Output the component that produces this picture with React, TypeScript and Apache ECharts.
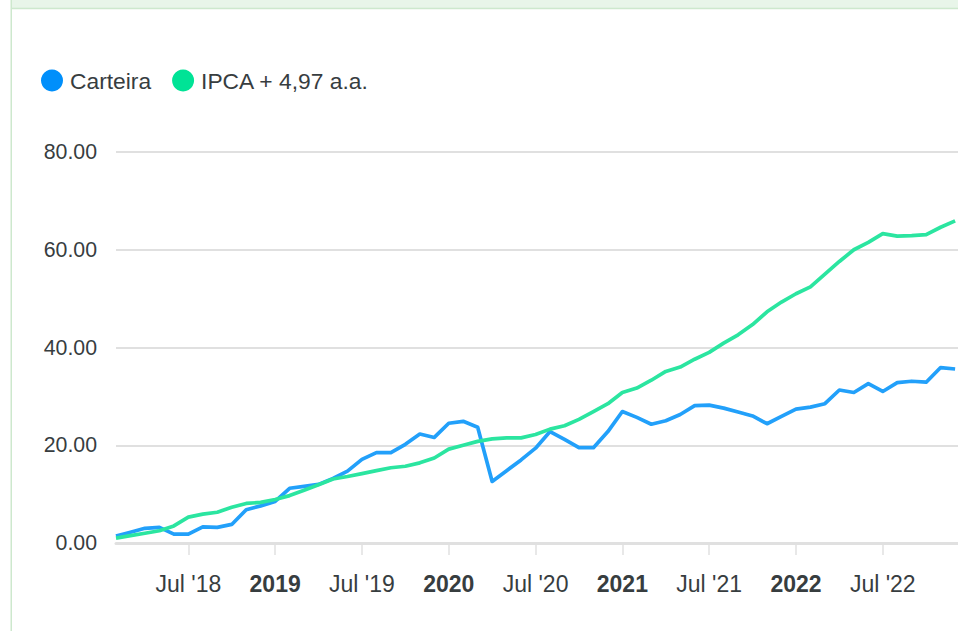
import React, { useEffect, useRef } from "react";
import * as echarts from "echarts";

// Monthly points, Feb 2018 .. Dec 2022
const months = [
  "2018-02","2018-03","2018-04","2018-05","2018-06","2018-07","2018-08","2018-09","2018-10","2018-11","2018-12",
  "2019-01","2019-02","2019-03","2019-04","2019-05","2019-06","2019-07","2019-08","2019-09","2019-10","2019-11","2019-12",
  "2020-01","2020-02","2020-03","2020-04","2020-05","2020-06","2020-07","2020-08","2020-09","2020-10","2020-11","2020-12",
  "2021-01","2021-02","2021-03","2021-04","2021-05","2021-06","2021-07","2021-08","2021-09","2021-10","2021-11","2021-12",
  "2022-01","2022-02","2022-03","2022-04","2022-05","2022-06","2022-07","2022-08","2022-09","2022-10","2022-11","2022-12",
];

const carteira = [
  1.4, 2.2, 3.0, 3.2, 1.8, 1.8, 3.3, 3.2, 3.8, 6.8, 7.6,
  8.5, 11.2, 11.6, 12.0, 13.2, 14.7, 17.1, 18.5, 18.5, 20.2, 22.3, 21.6,
  24.5, 24.9, 23.7, 12.6, 14.8, 17.0, 19.4, 22.8, 21.2, 19.5, 19.5, 22.8,
  26.9, 25.7, 24.3, 25.0, 26.3, 28.1, 28.2, 27.6, 26.8, 26.0, 24.4, 25.9,
  27.4, 27.8, 28.5, 31.3, 30.8, 32.6, 31.0, 32.8, 33.1, 32.9, 35.9, 35.6,
];

const ipca = [
  1.0, 1.5, 2.0, 2.5, 3.5, 5.3, 5.9, 6.3, 7.3, 8.1, 8.3,
  8.9, 9.7, 10.8, 11.9, 13.1, 13.6, 14.2, 14.8, 15.4, 15.7, 16.4, 17.4,
  19.2, 20.0, 20.8, 21.3, 21.5, 21.5, 22.2, 23.3, 24.0, 25.3, 26.9, 28.5,
  30.8, 31.7, 33.3, 35.1, 36.0, 37.6, 39.0, 40.9, 42.6, 44.7, 47.3, 49.3,
  51.0, 52.4, 55.0, 57.6, 60.0, 61.5, 63.3, 62.8, 62.9, 63.1, 64.6, 65.9,
];

const tickMonths = ["2018-07","2019-01","2019-07","2020-01","2020-07","2021-01","2021-07","2022-01","2022-07"];
const tickLabels = ["Jul '18","2019","Jul '19","2020","Jul '20","2021","Jul '21","2022","Jul '22"];
const yTicks = [0, 20, 40, 60, 80];

const seriesNames = ["Carteira", "IPCA + 4,97 a.a."];

export default function App() {
  const ref = useRef<HTMLDivElement>(null);
  useEffect(() => {
    if (!ref.current) return;
    const chart = echarts.init(ref.current, null, { renderer: "svg" });
    const tickIdx = tickMonths.map((m) => months.indexOf(m));
    const labelFor = (v: number) => {
      const k = tickIdx.indexOf(Math.round(v));
      if (k < 0) return "";
      const t = tickLabels[k];
      return /^\d{4}$/.test(t) ? `{b|${t}}` : t;
    };
    const font = "'Liberation Sans', Arial, Helvetica, sans-serif";
    chart.setOption({
      animation: false,
      backgroundColor: "#ffffff",
      textStyle: { fontFamily: font },
      legend: {
        left: 36,
        top: 64,
        icon: "circle",
        itemWidth: 22,
        itemHeight: 22,
        itemGap: 21,
        textStyle: { fontSize: 22.8, color: "#373d3f", fontFamily: font, padding: [0, 0, 0, 2] },
        data: [
          { name: seriesNames[0], itemStyle: { color: "#008FFB" } },
          { name: seriesNames[1], itemStyle: { color: "#00E396" } },
        ],
      },
      graphic: [
        { type: "rect", shape: { x: 11, y: 0, width: 947, height: 7.5 }, style: { fill: "#E8F5E9" }, silent: true },
        { type: "rect", shape: { x: 11, y: 7.5, width: 947, height: 1.8 }, style: { fill: "#CDE8CD" }, silent: true },
        { type: "rect", shape: { x: 10.5, y: 0, width: 1.5, height: 631 }, style: { fill: "#CDE8CD" }, silent: true },
      ],
      grid: { left: 116, right: 0, top: 152, bottom: 88, outerBoundsMode: "none" },
      xAxis: {
        type: "value",
        min: 0,
        max: 58.2,
        axisLine: { show: true, lineStyle: { color: "#e0e0e0", width: 3 } },
        axisTick: { show: true, customValues: tickIdx, length: 12, lineStyle: { color: "#e0e0e0", width: 1.5 } },
        splitLine: { show: false },
        axisLabel: {
          customValues: tickIdx,
          margin: 29,
          fontSize: 23,
          color: "#373d3f",
          fontFamily: font,
          formatter: labelFor,
          rich: { b: { fontWeight: "bold", fontSize: 23, color: "#373d3f", fontFamily: font } },
        },
      },
      yAxis: {
        type: "value",
        min: yTicks[0],
        max: yTicks[yTicks.length - 1],
        interval: 20,
        axisLine: { show: false },
        axisTick: { show: false },
        splitLine: { show: true, lineStyle: { color: "#e0e0e0", width: 2 } },
        axisLabel: {
          margin: 19,
          fontSize: 21.3,
          color: "#373d3f",
          fontFamily: font,
          formatter: (v: number) => v.toFixed(2),
        },
      },
      series: [
        {
          name: seriesNames[0],
          type: "line",
          data: carteira.map((v, i) => [i, v]),
          showSymbol: false,
          symbol: "none",
          lineStyle: { color: "#22A0FA", width: 3.7, join: "round" },
          itemStyle: { color: "#008FFB" },
          z: 2,
        },
        {
          name: seriesNames[1],
          type: "line",
          data: ipca.map((v, i) => [i, v]),
          showSymbol: false,
          symbol: "none",
          lineStyle: { color: "#2BE5A0", width: 3.7, join: "round" },
          itemStyle: { color: "#00E396" },
          z: 3,
        },
      ],
    });
    return () => chart.dispose();
  }, []);
  return (
    <div
      ref={ref}
      style={{ position: "absolute", left: 0, top: 0, width: 958, height: 631 }}
    />
  );
}
